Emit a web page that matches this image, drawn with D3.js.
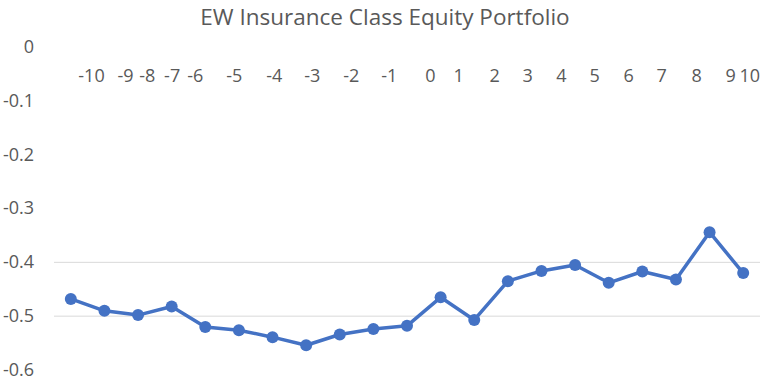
<!DOCTYPE html>
<html>
<head>
<meta charset="utf-8">
<script src="https://cdn.jsdelivr.net/npm/d3@7"></script>
<style>
  body { margin: 0; background: #fff; }
  text { font-family: "Open Sans", "Noto Sans", sans-serif; fill: #595959; }
  .title { font-size: 22.5px; }
  .axis text { font-size: 18px; }
  .grid line { stroke: #d9d9d9; stroke-width: 1; }
</style>
</head>
<body>
<div id="chart"></div>
<script>
// categories (event days) and the portfolio values
const days = [-10, -9, -8, -7, -6, -5, -4, -3, -2, -1, 0, 1, 2, 3, 4, 5, 6, 7, 8, 9, 10];
const values = [-0.468, -0.490, -0.498, -0.482, -0.520, -0.526, -0.539, -0.554, -0.534, -0.524,
                -0.518, -0.465, -0.507, -0.435, -0.416, -0.405, -0.438, -0.417, -0.432, -0.344, -0.420];

// y tick labels and the only gridlines drawn
const yTicks = [0, -0.1, -0.2, -0.3, -0.4, -0.5, -0.6];
const gridTicks = [-0.4, -0.5];

// where the top labels sit along the day axis (they drift off the points in the original)
const xLabelAt = [-9.40, -8.39, -7.74, -7.0, -6.31, -5.15, -3.96, -2.83, -1.67, -0.54,
                  0.68, 1.52, 2.59, 3.57, 4.58, 5.57, 6.58, 7.56, 8.6, 9.61, 10.18];

const W = 765, H = 380;
const plot = {left: 54, right: 760, top: 47, bottom: 370};

const svg = d3.select("#chart")
  .append("svg")
    .attr("width", W)
    .attr("height", H);

// scales
const xBand = d3.scaleBand()
    .domain(days)
    .range([plot.left, plot.right])
    .padding(0);
const xPos = function(d) { return xBand(d) + xBand.bandwidth() / 2; };

const xLin = d3.scaleLinear()
    .domain([-10, 10])
    .range([xPos(-10), xPos(10)]);

const yScale = d3.scaleLinear()
    .domain([-0.6, 0])
    .range([plot.bottom, plot.top]);

// title
svg.append("text")
    .attr("class", "title")
    .attr("x", 385)
    .attr("y", 25)
    .attr("text-anchor", "middle")
  .text("EW Insurance Class Equity Portfolio");

// gridlines
svg.append("g")
    .attr("class", "grid")
  .selectAll("line")
  .data(gridTicks)
  .enter()
  .append("line")
    .attr("x1", plot.left)
    .attr("x2", plot.right)
    .attr("y1", function(d) { return yScale(d); })
    .attr("y2", function(d) { return yScale(d); });

// y axis (labels only)
svg.append("g")
    .attr("class", "axis")
    .attr("transform", "translate(34, 0)")
    .call(d3.axisLeft(yScale)
      .tickValues(yTicks)
      .tickSize(0)
      .tickPadding(0)
      .tickFormat(function(d) { return String(d); }))
    .call(function(g) { return g.select(".domain").remove(); })
    .call(function(g) { return g.selectAll("text").attr("dy", "0.3em"); });

// x axis labels across the top
svg.append("g")
    .attr("class", "axis")
    .attr("transform", "translate(0, 82)")
    .call(d3.axisTop(xLin)
      .tickValues(xLabelAt)
      .tickSize(0)
      .tickPadding(0)
      .tickFormat(function(d, i) { return String(days[i]); }))
    .call(function(g) { return g.select(".domain").remove(); })
    .call(function(g) { return g.selectAll("text").attr("dy", "0"); });

// line
const line = d3.line()
    .x(function(d, i) { return xPos(days[i]); })
    .y(function(d) { return yScale(d); });

svg.append("path")
    .datum(values)
    .attr("fill", "none")
    .attr("stroke", "#4472c4")
    .attr("stroke-width", 3.5)
    .attr("stroke-linejoin", "round")
    .attr("d", line);

// markers
svg.append("g")
  .selectAll("circle")
  .data(values)
  .enter()
  .append("circle")
    .attr("cx", function(d, i) { return xPos(days[i]); })
    .attr("cy", function(d) { return yScale(d); })
    .attr("r", 6)
    .attr("fill", "#4472c4");
</script>
</body>
</html>
